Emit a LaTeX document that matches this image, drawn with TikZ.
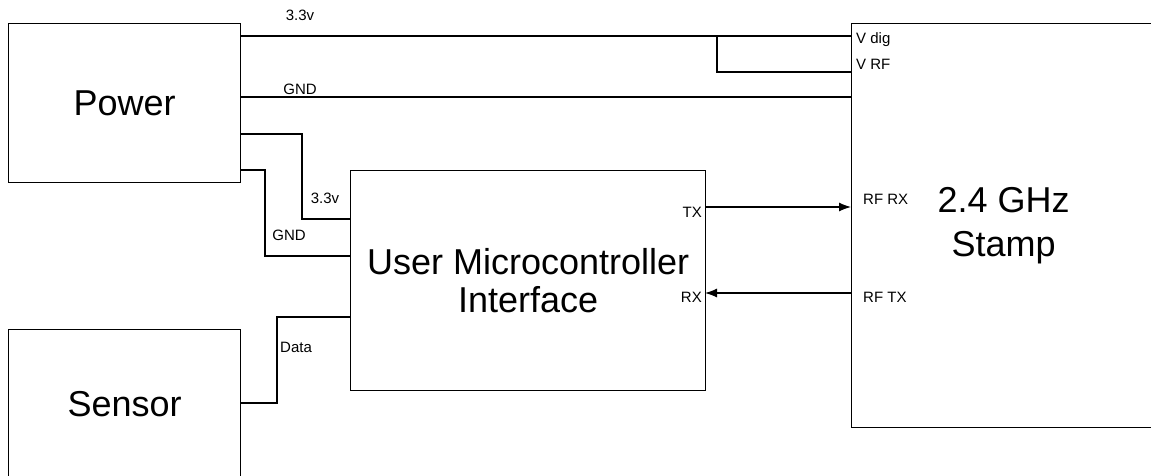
\documentclass[tikz,border=0pt]{standalone}
\usepackage{fontspec}
\setmainfont{Liberation Sans}
\usetikzlibrary{arrows.meta}

\tikzset{
  block/.style={draw, rectangle, line width=1.2pt, inner sep=0pt, align=center,
    font=\fontsize{36}{38}\selectfont},
  pinlabel/.style={font=\fontsize{15}{17}\selectfont, inner sep=0pt},
  wire/.style={line width=1.2pt},
}

\begin{document}
\begin{tikzpicture}[x=1pt, y=-1pt, >={Latex[length=12pt,width=9pt]}]
	\useasboundingbox (0,0) rectangle (1151,475);
	\clip (0,0) rectangle (1151,475);
	% blocks
	\node[block, anchor=north west, minimum width=232pt, minimum height=159pt] (power) at (8,23) {Power};
	\node[block, anchor=north west, minimum width=232pt, minimum height=148pt] (sensor) at (8,329) {Sensor};
	\node[block, anchor=north west, minimum width=355pt, minimum height=220pt] (micro) at (350,170) {User Microcontroller\\Interface};
	\node[block, anchor=north west, minimum width=304pt, minimum height=404pt,
		font=\fontsize{36}{44}\selectfont] (stamp) at (851,23) {2.4 GHz\\Stamp};
	% pins
	\coordinate (vdig) at (851,36);
	\coordinate (vrf) at (851,72);
	\coordinate (sgnd) at (851,97);
	\coordinate (tap) at (717,36);
	\coordinate (pvcc) at (240,134);
	\coordinate (pgnd) at (240,170);
	\coordinate (uvcc) at (350,219);
	\coordinate (ugnd) at (350,256);
	\coordinate (udata) at (350,317);
	\coordinate (sdata) at (240,403);
	\coordinate (tx) at (705,207);
	\coordinate (rx) at (705,293);
	% wires
	\draw[wire] (power.east |- vdig) -- (vdig);
	\draw[wire] (tap) |- (vrf);
	\draw[wire] (power.east |- sgnd) -- (sgnd);
	\draw[wire] (pvcc) -| (302,219) -- (uvcc);
	\draw[wire] (pgnd) -| (265,256) -- (ugnd);
	\draw[wire] (sdata) -| (277,317) -- (udata);
	\draw[wire, ->] (tx) -- (tx -| stamp.west);
	\draw[wire, ->] (rx -| stamp.west) -- (rx);
	% labels
	\node[pinlabel] (l33a) at (300,15) {3.3v};
	\node[pinlabel] (lgnda) at (300,89) {GND};
	\node[pinlabel] (l33b) at (325,198) {3.3v};
	\node[pinlabel] (lgndb) at (289,235) {GND};
	\node[pinlabel, anchor=west] (ldata) at (280,347) {Data};
	\node[pinlabel, anchor=west] (lvdig) at (856,40) {V dig};
	\node[pinlabel, anchor=west] (lvrf) at (856,64) {V RF};
	\node[pinlabel, anchor=west] (lrfrx) at (863,199) {RF RX};
	\node[pinlabel, anchor=west] (lrftx) at (863,297) {RF TX};
	\node[pinlabel, anchor=east] (ltx) at (702,212) {TX};
	\node[pinlabel, anchor=east] (lrx) at (702,297) {RX};
\end{tikzpicture}
\end{document}
